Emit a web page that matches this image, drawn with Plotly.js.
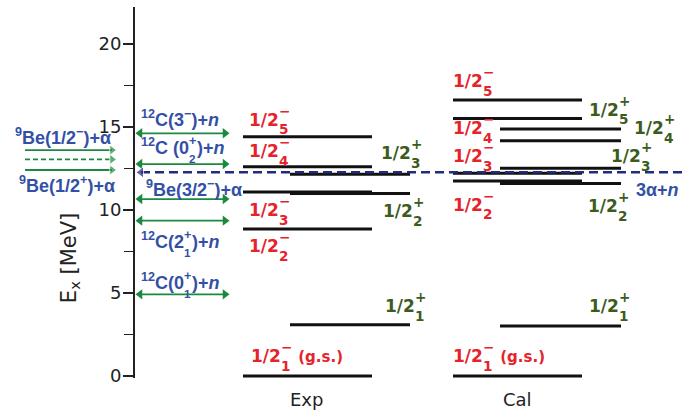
<!DOCTYPE html>
<html><head><meta charset="utf-8">
<script src="https://cdn.plot.ly/plotly-3.0.1.min.js"></script>
<style>html,body{margin:0;padding:0;background:#fff}</style>
</head><body><div id="chart" style="width:683px;height:418px"></div>
<script>
// ---------------- DATA (MeV) ----------------
const expNegE = [0, 8.86, 11.08, 12.61, 14.42];      // 1/2-_1 .. 1/2-_5 (Exp)
const expPosE = [3.09, 11.0, 12.15];                 // 1/2+_1 .. 1/2+_3 (Exp)
const calNegE = [0, 11.75, 12.22, 15.52, 16.63];     // 1/2-_1 .. 1/2-_5 (Cal)
const calPosE = [3.01, 11.6, 12.52, 14.18, 14.88];   // 1/2+_1 .. 1/2+_5 (Cal)
const thrE = [14.62, 12.77, 10.66, 9.36, 4.92];      // 12C(3-)+n, 12C(0+2)+n, 9Be(3/2-)+a, 12C(2+1)+n, 12C(0+1)+n
const beThrE = [13.61, 13.05, 12.41];                // 9Be(1/2-)+a, (dashed), 9Be(1/2+)+a
const beThrDash = [false, true, false];
const threeAlphaN = 12.27;                           // 3a+n threshold
const yTickVals = [0, 5, 10, 15, 20];
const columnNames = ['Exp', 'Cal'];
const levelIdx = ['1', '2', '3', '4', '5'];

// ---------------- STYLE / LAYOUT CONSTANTS ----------------
const RED = '#e5232b', DGREEN = '#3d5c1c', BLUE = '#3350a6', AGREEN = '#1b8a3e', NAVY = '#1f2c80';
const COL = {expNeg: [243, 372], expPos: [290, 410], calNeg: [453, 582], calPos: [500, 621]};
const ARR2 = [140, 225], ARR1 = [25, 112];

function levelTrace(E, xr) {
  const x = [], y = [];
  E.forEach(e => { x.push(xr[0], xr[1], null); y.push(e, e, null); });
  return {x, y, type: 'scatter', mode: 'lines', hoverinfo: 'skip',
          line: {color: '#111', width: 3}};
}
const traces = [
  levelTrace(expNegE, COL.expNeg), levelTrace(expPosE, COL.expPos),
  levelTrace(calNegE, COL.calNeg), levelTrace(calPosE, COL.calPos)
];
thrE.forEach(e => traces.push({
  x: ARR2, y: [e, e], type: 'scatter', mode: 'lines+markers', hoverinfo: 'skip',
  line: {color: AGREEN, width: 1.8},
  marker: {symbol: ['triangle-left', 'triangle-right'], size: 9, color: AGREEN}
}));
beThrE.forEach((e, i) => traces.push({
  x: ARR1, y: [e, e], type: 'scatter', mode: 'lines+markers', hoverinfo: 'skip',
  line: {color: AGREEN, width: 1.8, dash: beThrDash[i] ? '5px,3px' : 'solid'},
  marker: {symbol: ['circle', 'triangle-right'], size: [0, 9], color: AGREEN}
}));
traces.push({
  x: [141, 683], y: [threeAlphaN, threeAlphaN], type: 'scatter', mode: 'lines+markers',
  hoverinfo: 'skip', cliponaxis: false,
  line: {color: NAVY, width: 2.5, dash: '9px,5px'},
  marker: {symbol: ['triangle-left', 'circle'], size: [10, 0], color: NAVY}
});

// ---------------- TEXT ----------------
const ctx = document.createElement('canvas').getContext('2d');
function tw(text, font, k) {
  ctx.font = (font.weight || 'normal') + ' ' + (font.size * k) + 'px "' + font.family + '"';
  return ctx.measureText(text).width;
}
const desc = f => f.family.indexOf('DejaVu') === 0 ? 0.236 : 0.212;
const ann = [];
function A(o) { ann.push(Object.assign({xref: 'x', yref: 'y', showarrow: false, xanchor: 'left', borderpad: 0}, o)); }
// y = baseline of the label (MeV)
function rich(x, y, o) {
  const f = o.font, s = f.size, d = desc(f);
  A({x, y, text: o.pre, font: f, yanchor: 'bottom', yshift: -d * s});
  const wPre = o.preW.reduce((a, p) => a + tw(p[0], f, p[1]), 0);
  const fSub = Object.assign({}, f, {size: s * o.subS});
  const fSup = Object.assign({}, f, {size: s * o.supS});
  A({x, y, xshift: wPre, text: o.sub, font: fSub, yanchor: 'bottom', yshift: -(o.subDrop * s + d * fSub.size)});
  A({x, y, xshift: wPre, text: o.sup, font: fSup, yanchor: 'middle', yshift: o.supRise * s});
  if (o.post) {
    const w2 = Math.max(tw(o.sub, fSub, 1), tw(o.sup, fSup, 1));
    const fp = o.postFont || f;
    A({x, y, xshift: wPre + w2 + 1, text: o.post, font: fp, yanchor: 'bottom', yshift: -desc(fp) * fp.size});
  }
}
function plain(x, y, t, f) { A({x, y, text: t, font: f, yanchor: 'bottom', yshift: -desc(f) * f.size}); }

const fRed = {family: 'DejaVu Sans', size: 17, color: RED, weight: 'bold'};
const fGrn = {family: 'DejaVu Sans', size: 17, color: DGREEN, weight: 'bold'};
const fRedGs = {family: 'DejaVu Sans', size: 15, color: RED, weight: 'bold'};
const fBlue = {family: 'Liberation Sans', size: 18, color: BLUE, weight: 'bold'};
const fBlk = {family: 'DejaVu Sans', size: 18, color: '#222'};
const MN = '−';

function spin(x, y, idx, sign, f, post) {
  rich(x, y, {pre: '1/2', preW: [['1/2', 1]], sub: idx, sup: sign, font: f,
              subS: 0.8, subDrop: 0.5, supS: 0.8, supRise: 0.92,
              post: post, postFont: fRedGs});
}
// Exp negative parity
spin(248, 15.02, levelIdx[4], MN, fRed);
spin(248, 13.13, levelIdx[3], MN, fRed);
spin(248, 9.58, levelIdx[2], MN, fRed);
spin(248, 7.41, levelIdx[1], MN, fRed);
spin(250, 0.78, levelIdx[0], MN, fRed, ' (g.s.)');
// Exp positive parity
spin(380, 13.01, levelIdx[2], '+', fGrn);
spin(382, 9.52, levelIdx[1], '+', fGrn);
spin(384, 3.80, levelIdx[0], '+', fGrn);
// Cal negative parity
spin(452, 17.35, levelIdx[4], MN, fRed);
spin(452, 14.52, levelIdx[3], MN, fRed);
spin(452, 12.83, levelIdx[2], MN, fRed);
spin(452, 9.90, levelIdx[1], MN, fRed);
spin(452, 0.78, levelIdx[0], MN, fRed, ' (g.s.)');
// Cal positive parity
spin(588, 15.62, levelIdx[4], '+', fGrn);
spin(633, 14.52, levelIdx[3], '+', fGrn);
spin(610, 12.83, levelIdx[2], '+', fGrn);
spin(587, 9.82, levelIdx[1], '+', fGrn);
spin(588, 3.80, levelIdx[0], '+', fGrn);

// thresholds
function cthr(x, y, pre, preW, sub) {
  rich(x, y, {pre, preW, sub, sup: '+', font: fBlue, subS: 0.65, subDrop: 0.45,
              supS: 0.7, supRise: 0.78, post: ')+<i>n</i>', postFont: fBlue});
}
plain(140, 15.0, '<sup>12</sup>C(3<sup>' + MN + '</sup>)+<i>n</i>', fBlue);
cthr(140, 13.31, '<sup>12</sup>C (0', [['12', 0.7], ['C (0', 1]], '2');
plain(145, 10.78, '<sup>9</sup>Be(3/2<sup>' + MN + '</sup>)+α', fBlue);
cthr(140, 7.65, '<sup>12</sup>C(2', [['12', 0.7], ['C(2', 1]], '1');
cthr(140, 5.18, '<sup>12</sup>C(0', [['12', 0.7], ['C(0', 1]], '1');
plain(14, 13.92, '<sup>9</sup>Be(1/2<sup>' + MN + '</sup>)+α', fBlue);
plain(18, 11.02, '<sup>9</sup>Be(1/2<sup>+</sup>)+α', fBlue);
plain(635, 10.80, '3α+<i>n</i>', fBlue);

// column names
ann.push({x: 306, y: -0.059, xref: 'x', yref: 'paper', text: columnNames[0], showarrow: false,
          xanchor: 'center', yanchor: 'middle', font: fBlk});
ann.push({x: 517, y: -0.059, xref: 'x', yref: 'paper', text: columnNames[1], showarrow: false,
          xanchor: 'center', yanchor: 'middle', font: fBlk});
// axis title
ann.push({x: 70, y: 7.1, xref: 'x', yref: 'y', text: 'E<sub>x</sub> [MeV]', showarrow: false,
          xanchor: 'center', yanchor: 'middle', textangle: -90,
          font: {family: 'DejaVu Sans', size: 21, color: '#222'}});

const layout = {
  width: 683, height: 418,
  margin: {l: 0, r: 0, t: 7, b: 40, pad: 0},
  paper_bgcolor: '#fff', plot_bgcolor: 'rgba(0,0,0,0)',
  showlegend: false,
  xaxis: {range: [0, 683], visible: false, fixedrange: true},
  yaxis: {
    range: [-0.12, 22.23], anchor: 'free', position: 134 / 683,
    showline: true, linecolor: '#222', linewidth: 2,
    showgrid: false, zeroline: false,
    tickvals: yTickVals, ticks: 'outside', ticklen: 10, tickwidth: 1.5, tickcolor: '#222',
    tickfont: {family: 'DejaVu Sans', size: 18, color: '#222'},
    minor: {dtick: 2.5, tick0: 0, ticks: 'outside', ticklen: 9, tickwidth: 1.5, tickcolor: '#222', showgrid: false},
    ticklabelstandoff: -2, fixedrange: true
  },
  annotations: ann
};
Plotly.newPlot('chart', traces, layout, {displayModeBar: false, staticPlot: true});
</script></body></html>
